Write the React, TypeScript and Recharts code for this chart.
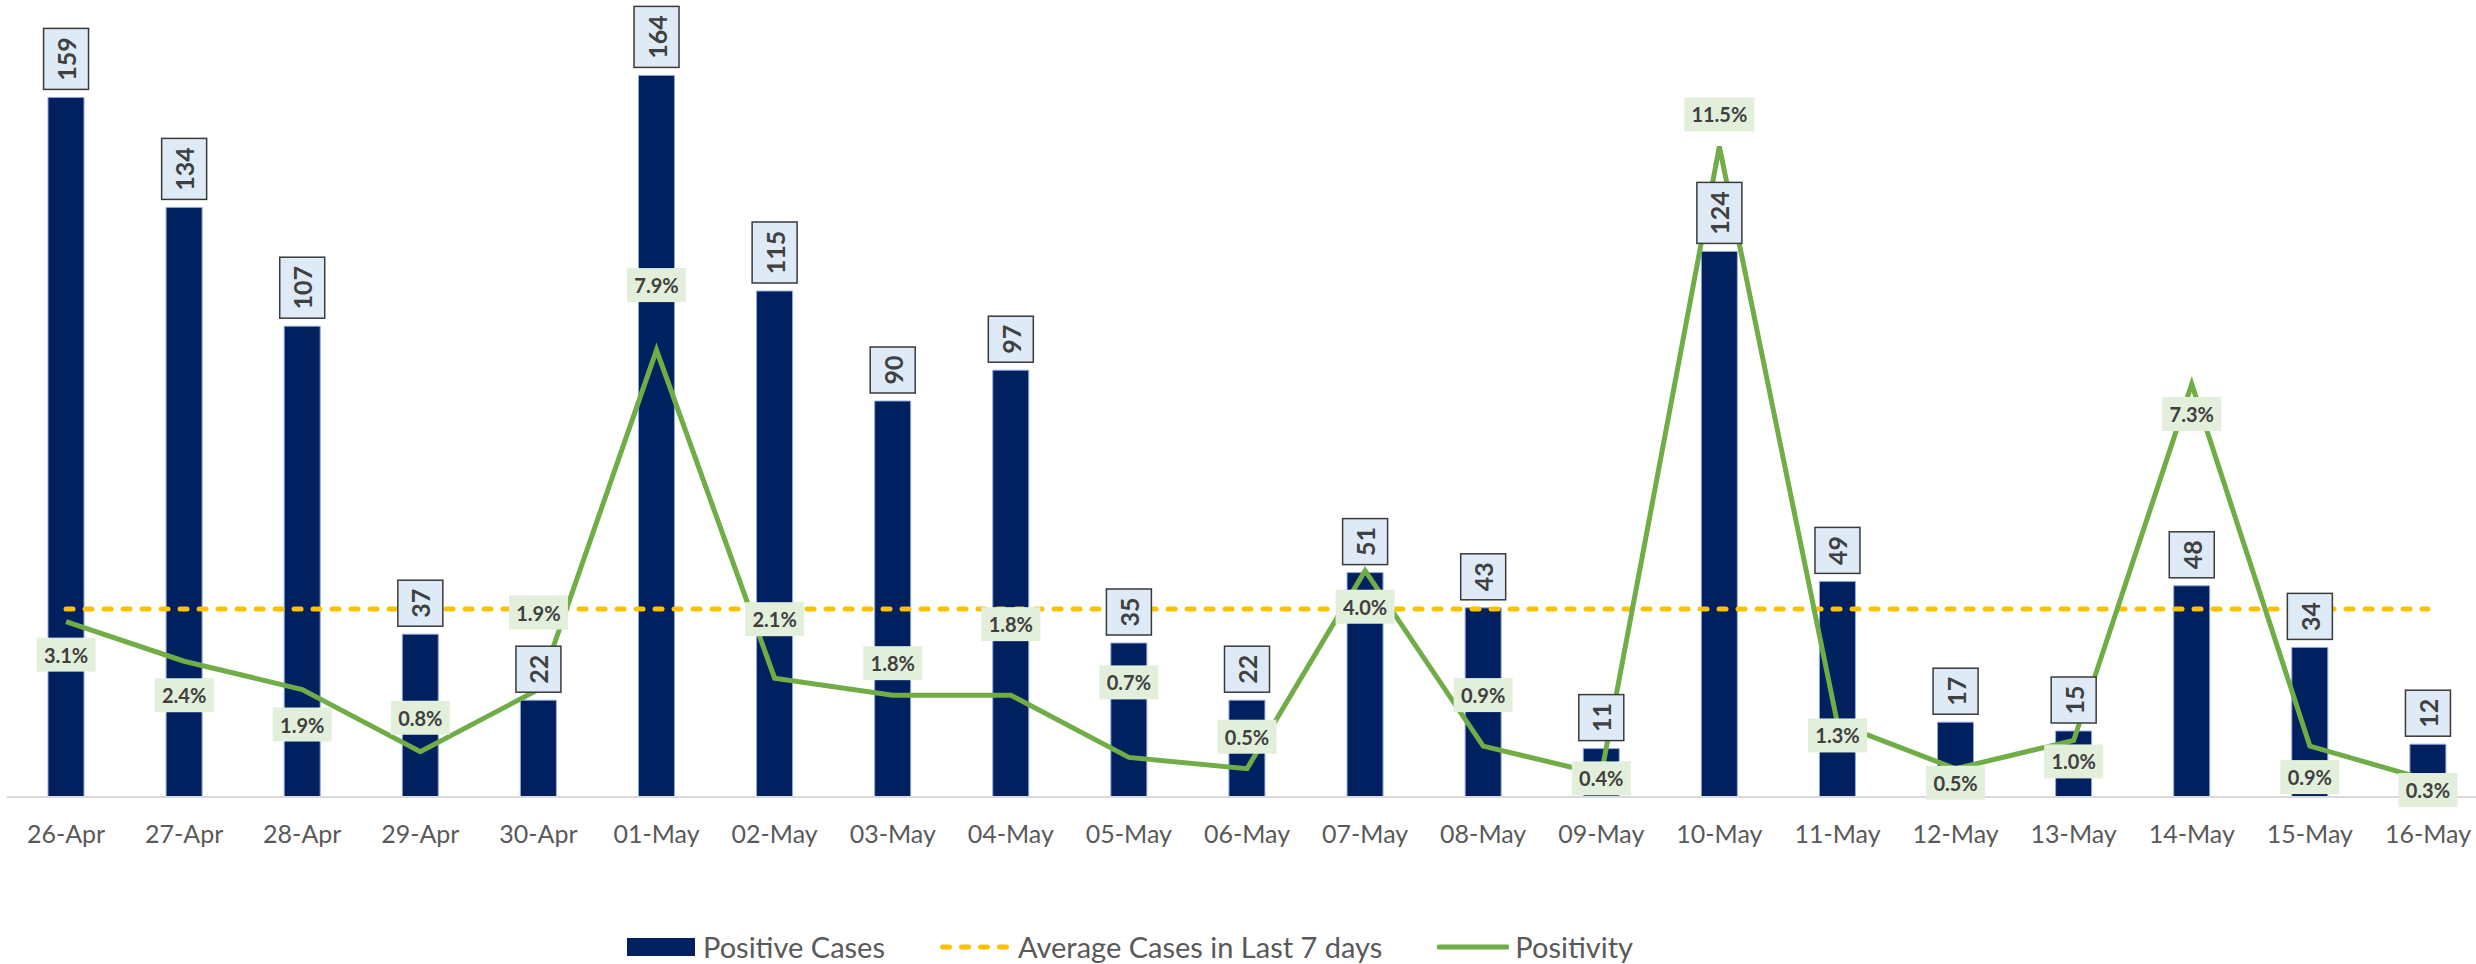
import React from "react";
import {
  ComposedChart,
  Bar,
  Line,
  XAxis,
  YAxis,
  Legend,
  LabelList,
} from "recharts";

// ─── Data ─────────────────────────────────────────────────────────────────────

const DATES = [
  "26-Apr", "27-Apr", "28-Apr", "29-Apr", "30-Apr", "01-May", "02-May",
  "03-May", "04-May", "05-May", "06-May", "07-May", "08-May", "09-May",
  "10-May", "11-May", "12-May", "13-May", "14-May", "15-May", "16-May",
];

const POSITIVE_CASES = [
  159, 134, 107, 37, 22, 164, 115, 90, 97, 35, 22, 51, 43, 11, 124, 49, 17, 15, 48, 34, 12,
];

const AVG_LAST_7 = [
  42.7, 42.7, 42.7, 42.7, 42.7, 42.7, 42.7, 42.7, 42.7, 42.7, 42.7,
  42.7, 42.7, 42.7, 42.7, 42.7, 42.7, 42.7, 42.7, 42.7, 42.7,
];

const POSITIVITY = [
  3.1, 2.4, 1.9, 0.8, 1.9, 7.9, 2.1, 1.8, 1.8, 0.7, 0.5, 4.0, 0.9, 0.4, 11.5, 1.3, 0.5, 1.0, 7.3, 0.9, 0.3,
];

const rows = DATES.map((date, i) => ({
  date,
  cases: POSITIVE_CASES[i],
  avg: AVG_LAST_7[i],
  pos: POSITIVITY[i],
}));

// Excel's hand-placed positivity labels: vertical offset of label centre from the point.
const POS_LABEL_DY = [33, 34, 35, -34, -77, -65, -59, -32, -71, -75, -32, 36, -51, 4, -32, 12, 14, 21, 30, 31, 10];

// ─── Styles ───────────────────────────────────────────────────────────────────

const FONT = "Lato, 'Open Sans', sans-serif";
const NAVY = "#002060";
const GOLD = "#FFC000";
const GREEN = "#70AD47";
const LABEL_TEXT = "#404040";

function CasesLabel(props: any) {
  const x = Number(props.x);
  const y = Number(props.y);
  const text = String(props.value);
  const w = 45;
  const h = 16 + 15 * text.length;
  const bottom = y - 8;
  const cy = bottom - h / 2;
  return (
    <g>
      <rect x={x - w / 2} y={bottom - h} width={w} height={h} fill="#DEEBF7" stroke="#3A3A3A" strokeWidth={1.5} />
      <text
        x={x}
        y={cy}
        transform={`rotate(-90 ${x} ${cy})`}
        textAnchor="middle"
        dominantBaseline="central"
        fontFamily={FONT}
        fontWeight={700}
        fontSize={25}
        fill={LABEL_TEXT}
      >
        {text}
      </text>
    </g>
  );
}

function PositivityLabel(props: any) {
  const x = Number(props.x);
  const y = Number(props.y);
  const text = `${Number(props.value).toFixed(1)}%`;
  const w = 15 + 11 * text.length;
  const h = 34;
  const cy = y + (POS_LABEL_DY[props.index] ?? 0);
  return (
    <g>
      <rect x={x - w / 2} y={cy - h / 2} width={w} height={h} fill="#E2EFDA" />
      <text
        x={x}
        y={cy}
        textAnchor="middle"
        dominantBaseline="central"
        fontFamily={FONT}
        fontWeight={700}
        fontSize={20}
        fill={LABEL_TEXT}
      >
        {text}
      </text>
    </g>
  );
}

function ChartLegend() {
  const item = { display: "flex", alignItems: "center" } as const;
  return (
    <div
      style={{
        display: "flex",
        alignItems: "center",
        fontFamily: FONT,
        fontSize: 29,
        lineHeight: "34px",
        color: "#595959",
        whiteSpace: "nowrap",
      }}
    >
      <div style={item}>
        <div style={{ width: 68, height: 18, background: NAVY, marginRight: 8 }} />
        <span>Positive Cases</span>
      </div>
      <div style={{ ...item, marginLeft: 55 }}>
        <svg width={72} height={10} style={{ marginRight: 6 }}>
          <line x1={2.5} y1={5} x2={70} y2={5} stroke={GOLD} strokeWidth={5} strokeDasharray="7 12" strokeLinecap="round" />
        </svg>
        <span>Average Cases in Last 7 days</span>
      </div>
      <div style={{ ...item, marginLeft: 55 }}>
        <svg width={72} height={10} style={{ marginRight: 6 }}>
          <line x1={2} y1={5} x2={70} y2={5} stroke={GREEN} strokeWidth={5} strokeLinecap="round" />
        </svg>
        <span>Positivity</span>
      </div>
    </div>
  );
}

// ─── Chart ────────────────────────────────────────────────────────────────────

export default function App() {
  return (
    <div
      style={{
        position: "absolute",
        left: 0,
        top: 0,
        width: 2476,
        height: 964,
        overflow: "hidden",
        background: "#fff",
      }}
    >
      <ComposedChart
        width={2500}
        height={964}
        data={rows}
        margin={{ top: 5, right: 13, bottom: 107, left: 7 }}
      >
        <XAxis
          dataKey="date"
          height={60}
          interval={0}
          axisLine={{ stroke: "#D9D9D9", strokeWidth: 2 }}
          tickLine={false}
          tickMargin={22}
          tick={{ fontSize: 25, fill: "#595959", fontFamily: FONT }}
        />
        <YAxis yAxisId="cases" domain={[0, 180]} hide />
        <YAxis yAxisId="pos" orientation="right" domain={[0, 14]} hide />
        <Legend
          layout="horizontal"
          verticalAlign="middle"
          align="center"
          content={() => <ChartLegend />}
          wrapperStyle={{ left: 627, top: 930, width: "auto" }}
        />
        <Bar
          yAxisId="cases"
          dataKey="cases"
          barSize={36}
          fill={NAVY}
          stroke="#8FAADC"
          strokeWidth={1}
          isAnimationActive={false}
        />
        <Line
          yAxisId="cases"
          dataKey="avg"
          stroke={GOLD}
          strokeWidth={5}
          strokeDasharray="7 12"
          strokeLinecap="round"
          dot={false}
          activeDot={false}
          isAnimationActive={false}
        />
        <Line
          yAxisId="pos"
          dataKey="pos"
          stroke={GREEN}
          strokeWidth={5}
          dot={false}
          activeDot={false}
          isAnimationActive={false}
        />
        {/* invisible carriers so the labels sit above every line */}
        <Line
          yAxisId="cases"
          dataKey="cases"
          stroke="none"
          dot={false}
          activeDot={false}
          legendType="none"
          isAnimationActive={false}
        >
          <LabelList dataKey="cases" content={CasesLabel} />
        </Line>
        <Line
          yAxisId="pos"
          dataKey="pos"
          stroke="none"
          dot={false}
          activeDot={false}
          legendType="none"
          isAnimationActive={false}
        >
          <LabelList dataKey="pos" content={PositivityLabel} />
        </Line>
      </ComposedChart>
    </div>
  );
}
